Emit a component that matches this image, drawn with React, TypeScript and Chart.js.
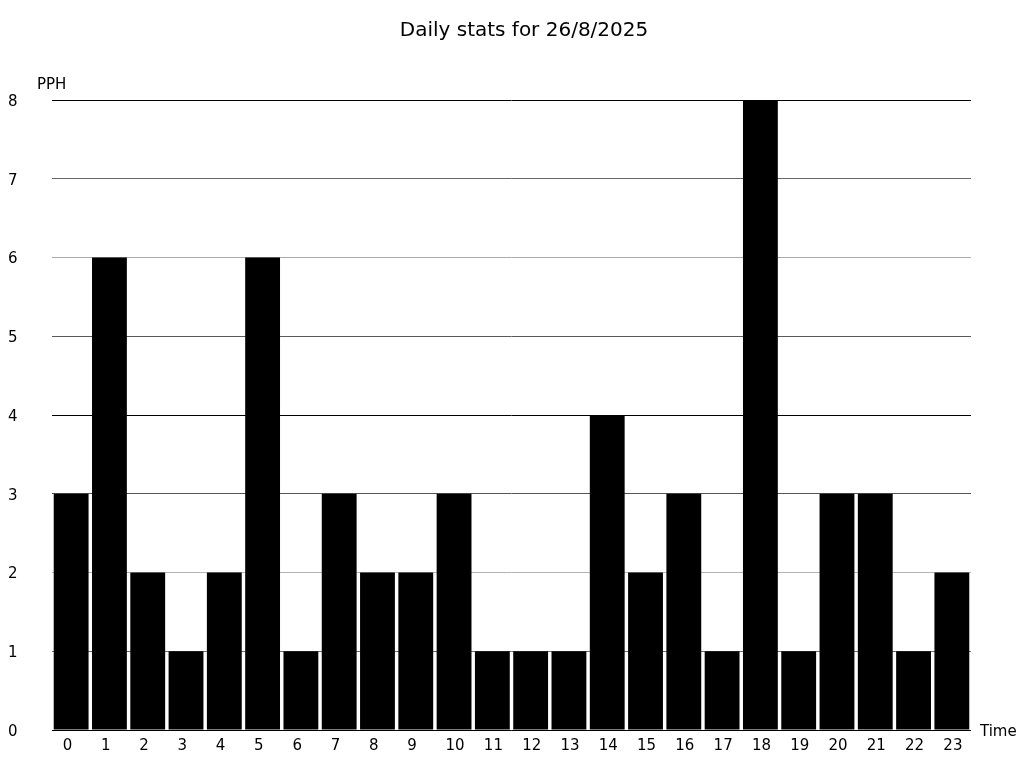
import React, { useEffect, useRef } from "react";
import { Chart, registerables } from "chart.js";

Chart.register(...registerables);

const TITLE = "Daily stats for 26/8/2025";
const Y_LABEL = "PPH";
const X_LABEL = "Time";
const HOURS = [
  "0", "1", "2", "3", "4", "5", "6", "7", "8", "9", "10", "11",
  "12", "13", "14", "15", "16", "17", "18", "19", "20", "21", "22", "23",
];
const PPH = [3, 6, 2, 1, 2, 6, 1, 3, 2, 2, 3, 1, 1, 1, 4, 2, 3, 1, 8, 1, 3, 3, 1, 2];
const Y_MIN = 0;
const Y_MAX = 8;

const FONT = "'DejaVu Sans', sans-serif";

const gridColors: Record<number, string> = {
  0: "#000000",
  1: "#6e6e6e",
  2: "#b4b4b4",
  3: "#555555",
  4: "#000000",
  5: "#5a5a5a",
  6: "#aaaaaa",
  7: "#666666",
  8: "#000000",
};

const textPlugin = {
  id: "textPlugin",
  afterDraw(chart: any) {
    const ctx = chart.ctx as CanvasRenderingContext2D;
    const area = chart.chartArea;
    ctx.save();
    ctx.fillStyle = "#000";
    ctx.textBaseline = "middle";
    ctx.font = `20px ${FONT}`;
    ctx.textAlign = "center";
    ctx.fillText(TITLE, 524, 31);
    ctx.font = `15px ${FONT}`;
    ctx.textAlign = "left";
    ctx.fillText(Y_LABEL, 37, area.top - 14.5);
    ctx.fillText(X_LABEL, area.right + 9, area.bottom + 2);
    ctx.restore();
  },
};

export default function App() {
  const ref = useRef<HTMLCanvasElement | null>(null);
  useEffect(() => {
    if (!ref.current) return;
    const chart = new Chart(ref.current, {
      type: "bar",
      data: {
        labels: HOURS,
        datasets: [
          {
            label: Y_LABEL,
            data: PPH,
            backgroundColor: "#000000",
            borderWidth: 0,
            barPercentage: 0.91,
            categoryPercentage: 1,
          },
        ],
      },
      options: {
        animation: false,
        responsive: false,
        devicePixelRatio: 1,
        layout: { padding: { left: 8, top: 100, right: 53, bottom: 0 } },
        plugins: {
          legend: { display: false },
          title: { display: false },
          tooltip: { enabled: false },
        },
        scales: {
          x: {
            grid: { display: false, drawTicks: false },
            border: { display: false },
            ticks: {
              color: "#000",
              font: { family: FONT, size: 15 },
              padding: 7,
              maxRotation: 0,
              autoSkip: false,
              align: "start",
              labelOffset: -8.5,
            },
            afterFit: (s: any) => {
              s.height = 38;
            },
          },
          y: {
            min: Y_MIN,
            max: Y_MAX,
            grid: {
              drawTicks: false,
              color: (c: any) => gridColors[c.tick?.value] ?? "#888",
              lineWidth: 1,
            },
            border: { display: false },
            ticks: {
              stepSize: 1,
              color: "#000",
              font: { family: FONT, size: 15 },
              crossAlign: "far",
              padding: 0,
              labelOffset: 2,
            },
            afterFit: (s: any) => {
              s.width = 44;
            },
          },
        },
      },
      plugins: [textPlugin],
    });
    return () => chart.destroy();
  }, []);
  return (
    <div style={{ position: "fixed", left: 0, top: 0, width: 1024, height: 768, background: "#fff" }}>
      <canvas ref={ref} width={1024} height={768} />
    </div>
  );
}
